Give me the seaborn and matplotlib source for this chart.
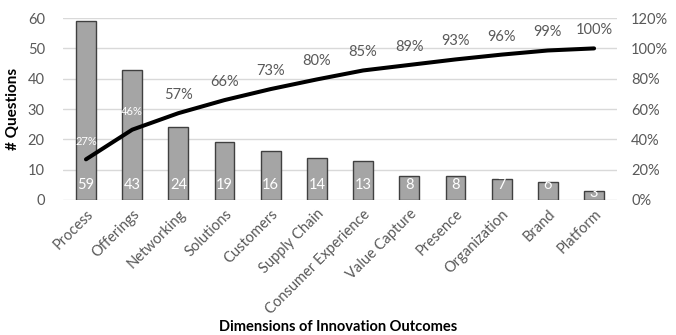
import numpy as np
import pandas as pd
import matplotlib
matplotlib.use("Agg")
import matplotlib.pyplot as plt
from matplotlib.ticker import FuncFormatter
import seaborn as sns

# Question counts per innovation-outcome dimension (sorted, Pareto order)
categories = ["Process", "Offerings", "Networking", "Solutions", "Customers",
              "Supply Chain", "Consumer Experience", "Value Capture", "Presence",
              "Organization", "Brand", "Platform"]
counts = [59, 43, 24, 19, 16, 14, 13, 8, 8, 7, 6, 3]
left_ticks = [0, 10, 20, 30, 40, 50, 60]
right_ticks = [0, 0.2, 0.4, 0.6, 0.8, 1.0, 1.2]

df = pd.DataFrame({"dimension": categories, "questions": counts})
df["cum_share"] = df["questions"].cumsum() / df["questions"].sum()
df["pos"] = np.arange(len(df))

sns.set_theme(style="white")
plt.rcParams["font.family"] = ["Lato", "DejaVu Sans"]

text_grey = "#595959"
fig = plt.figure(figsize=(6.76, 3.35), dpi=100)
ax = fig.add_axes([0.093, 0.403, 0.820, 0.543])

sns.barplot(data=df, x="dimension", y="questions", color="#A5A5A5",
            edgecolor="#404040", linewidth=1.0, width=0.43, saturation=1,
            ax=ax, zorder=3)

ax.set_ylim(0, 60)
ax.set_yticks(left_ticks)
ax.set_xlim(-0.5, len(categories) - 0.5)
ax.grid(axis="y", color="#D9D9D9", linewidth=1.0, zorder=0)
ax.set_axisbelow(True)
for s in ax.spines.values():
    s.set_visible(False)
ax.tick_params(axis="both", length=0, labelsize=10.5, colors=text_grey, pad=5)
ax.tick_params(axis="y", pad=13)
ax.set_xticks(df["pos"])
ax.set_xticklabels(categories, rotation=45, ha="right", rotation_mode="anchor")
ax.set_ylabel("# Questions", fontsize=11, fontweight="bold", color="black")
ax.yaxis.set_label_coords(-0.078, 0.5)
ax.set_xlabel("")
fig.text(0.5, 0.025, "Dimensions of Innovation Outcomes", ha="center", va="center",
         fontsize=10.5, fontweight="bold", color="black")

# Count labels inside the base of each bar
px_per_unit = ax.bbox.height / 60
for p, v in zip(df["pos"], df["questions"]):
    off = min(15, v * px_per_unit - 2) * 72 / fig.dpi
    ax.annotate(str(v), (p, 0), xytext=(0, off), textcoords="offset points",
                ha="center", va="center", color="white", fontsize=10.5, zorder=5)

# Cumulative percentage line on the secondary axis
ax2 = ax.twinx()
sns.lineplot(data=df, x="pos", y="cum_share", color="black", linewidth=2.9,
             ax=ax2, zorder=4)
ax2.set_ylim(0, 1.2)
ax2.set_yticks(right_ticks)
ax2.yaxis.set_major_formatter(FuncFormatter(lambda v, _: f"{v:.0%}"))
ax2.set_ylabel("")
ax2.set_xlabel("")
for s in ax2.spines.values():
    s.set_visible(False)
ax2.tick_params(axis="y", length=0, labelsize=10.5, colors=text_grey, pad=10)
ax2.set_xlim(-0.5, len(categories) - 0.5)

for i, (p, v) in enumerate(zip(df["pos"], df["cum_share"])):
    inside = i < 2
    ax2.annotate(f"{v:.0%}", (p, v), xytext=(0, 13), textcoords="offset points",
                 ha="center", va="center",
                 color="white" if inside else text_grey,
                 fontsize=8 if inside else 10.5, zorder=6)

fig.savefig("out.png", dpi=100)
